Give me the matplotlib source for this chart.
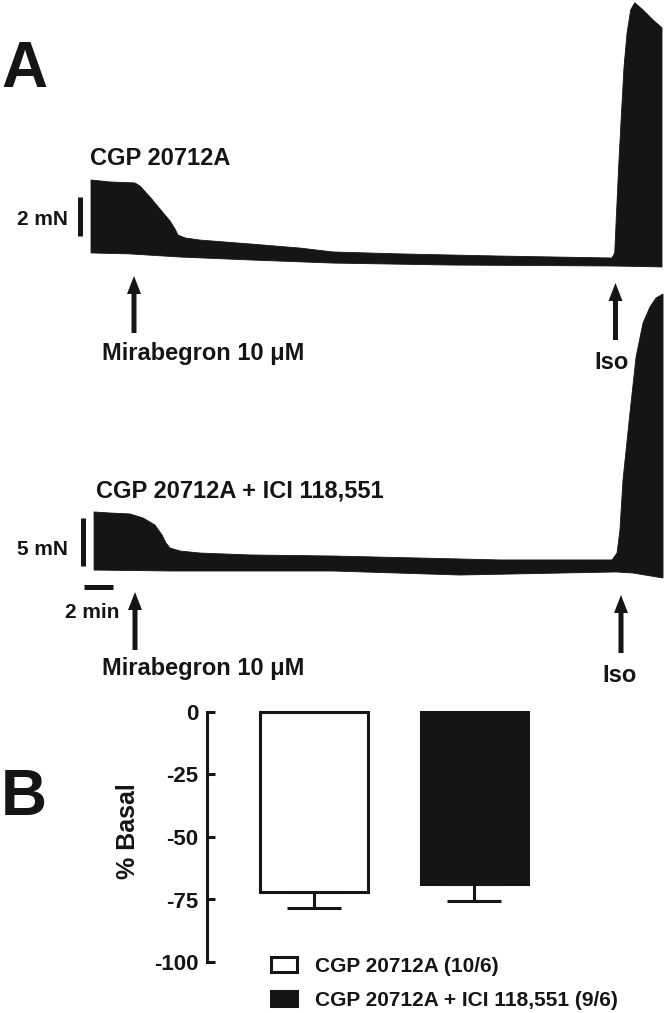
import matplotlib
matplotlib.use('Agg')
import matplotlib.pyplot as plt
import matplotlib.patches as patches
import numpy as np

plt.rcParams['font.family'] = ['Liberation Sans', 'DejaVu Sans']
plt.rcParams['font.weight'] = 'bold'

INK = '#151515'
W, H = 666, 1013

# --- Trace data (time in min, force in mN, read from the recordings) ---
top_up_t = [0, 1.31, 3.03, 3.38, 4.07, 4.76, 5.45, 5.79, 6.0, 6.48, 7.52, 10.97, 14.41, 16.69,
            21.31, 28.2, 35.93, 36.12, 36.23, 36.39, 36.57, 36.76, 36.97, 37.22, 37.50, 38.07,
            38.76, 39.38]
top_up_f = [4.41, 4.31, 4.26, 4.10, 3.54, 2.92, 2.31, 1.90, 1.59, 1.44, 1.33, 1.13, 0.92, 0.72,
            0.62, 0.51, 0.41, 0.67, 2.51, 5.08, 7.64, 10.21, 11.95, 13.13, 13.50, 13.13,
            12.62, 12.21]
top_lo_t = [0, 2.69, 6.14, 10.97, 16.69, 24.76, 36.0, 37.5, 39.38]
top_lo_f = [0.67, 0.62, 0.46, 0.31, 0.15, 0.05, 0.0, -0.02, -0.05]

bot_up_t = [0.21, 1.31, 2.69, 3.59, 4.41, 4.90, 5.17, 5.45, 6.14, 7.52, 10.97, 16.69, 22.69,
            28.2, 35.93, 36.28, 36.48, 36.69, 37.17, 37.59, 38.07, 38.55, 38.97, 39.45]
bot_up_f = [6.88, 6.77, 6.67, 6.25, 5.52, 4.48, 3.65, 3.13, 2.81, 2.60, 2.40, 2.29, 2.08,
            1.88, 1.88, 2.60, 5.0, 10.21, 17.19, 23.02, 26.56, 28.23, 29.17, 29.58]
bot_lo_t = [0.21, 5.45, 16.69, 25.45, 36.21, 37.38, 39.45]
bot_lo_f = [0.83, 0.73, 0.73, 0.31, 0.63, 0.52, 0.0]

# --- Bar data ---
groups = ['CGP 20712A (10/6)', 'CGP 20712A + ICI 118,551 (9/6)']
means = [-72.0, -68.8]
sems = [6.4, 6.8]
bar_colors = ['white', INK]
yticks = [0, -25, -50, -75, -100]

fig = plt.figure(figsize=(W / 100, H / 100), dpi=100)
fig.patch.set_facecolor('white')


def px_axes(x0, y0, x1, y1):
    # axes placed by pixel box (y measured from top)
    return fig.add_axes([x0 / W, 1 - y1 / H, (x1 - x0) / W, (y1 - y0) / H])


# time axis shared by both traces: 14.5 px per min, t=0 at x=91 px
PX_MIN = 14.5
XLIM = (-91 / PX_MIN, (W - 91) / PX_MIN)

# --- Top trace (2 mN = 39 px) ---
axt = px_axes(0, 0, W, 290)
axt.set_xlim(XLIM)
axt.set_ylim((266 - 290) / 19.5, 266 / 19.5)
axt.axis('off')
axt.fill(np.concatenate([top_up_t, top_lo_t[::-1]]),
         np.concatenate([top_up_f, top_lo_f[::-1]]), color=INK, lw=0.6, ec=INK)
axt.plot([-0.76, -0.76], [1.54, 3.54], color=INK, lw=3.6, solid_capstyle='butt')

# --- Bottom trace (5 mN = 48 px) ---
axb = px_axes(0, 280, W, 600)
axb.set_xlim(XLIM)
axb.set_ylim((578 - 600) / 9.6, (578 - 280) / 9.6)
axb.axis('off')
axb.fill(np.concatenate([bot_up_t, bot_lo_t[::-1]]),
         np.concatenate([bot_up_f, bot_lo_f[::-1]]), color=INK, lw=0.6, ec=INK)
axb.plot([-0.55, -0.55], [1.25, 6.25], color=INK, lw=3.6, solid_capstyle='butt')
axb.plot([-0.48, 1.52], [-0.94, -0.94], color=INK, lw=3.6, solid_capstyle='butt')

# --- Panel B bar chart ---
ax = px_axes(207, 712, 560, 962)
xs = np.arange(len(groups))
bars = ax.bar(xs, means, width=0.67, color=bar_colors, edgecolor=INK, linewidth=2.2,
              clip_on=False, zorder=3)
# one-sided (downward) SEM
ax.errorbar(xs, means, yerr=[sems, [0, 0]], fmt='none', ecolor=INK, elinewidth=2.2,
            capsize=19.5, capthick=2.2, clip_on=False, zorder=2)
ax.set_xlim(-0.667, 1.533)
ax.set_ylim(-100, 0)
ax.set_yticks(yticks)
ax.set_yticklabels([str(v) for v in yticks], fontsize=16, fontweight='bold', color=INK)
ax.tick_params(axis='y', direction='in', length=5.5, width=2.2, pad=6, colors=INK)
ax.set_xticks([])
for s in ['top', 'right', 'bottom']:
    ax.spines[s].set_visible(False)
ax.spines['left'].set_linewidth(2.2)
ax.spines['left'].set_color(INK)
ax.patch.set_alpha(0)

leg = ax.legend(bars, groups, loc='upper left', bbox_to_anchor=(271 / W, 1 - 957 / H),
                bbox_transform=fig.transFigure, frameon=False, fontsize=15,
                handlelength=1.25, handleheight=0.72, handletextpad=0.85,
                labelspacing=0.72, borderpad=0, borderaxespad=0)
for t in leg.get_texts():
    t.set_fontweight('bold')
    t.set_color(INK)

# --- Overlay in pixel coordinates for labels and arrows ---
ov = px_axes(0, 0, W, H)
ov.set_xlim(0, W)
ov.set_ylim(H, 0)
ov.axis('off')
ov.patch.set_alpha(0)

ov.text(1, 87, 'A', fontsize=46, fontweight='bold', color=INK, va='baseline')
ov.text(1, 815, 'B', fontsize=46, fontweight='bold', color=INK, va='baseline')

ov.text(90, 165, 'CGP 20712A', fontsize=17, color=INK, va='baseline')
ov.text(96, 497, 'CGP 20712A + ICI 118,551', fontsize=17, color=INK, va='baseline')
ov.text(68, 225, '2 mN', fontsize=15, color=INK, va='baseline', ha='right')
ov.text(68, 555, '5 mN', fontsize=15, color=INK, va='baseline', ha='right')
ov.text(92, 618, '2 min', fontsize=15, color=INK, va='baseline', ha='center')
ov.text(102, 360, 'Mirabegron 10 \u03bcM', fontsize=17, color=INK, va='baseline')
ov.text(102, 675, 'Mirabegron 10 \u03bcM', fontsize=17, color=INK, va='baseline')
ov.text(612, 369, 'Iso', fontsize=17, color=INK, va='baseline', ha='center')
ov.text(620, 682, 'Iso', fontsize=17, color=INK, va='baseline', ha='center')
ov.text(135, 831, '% Basal', fontsize=18, color=INK, rotation=90, rotation_mode='anchor',
        ha='center', va='baseline')


def up_arrow(x, tail, tip):
    ov.add_patch(patches.FancyArrow(x, tail, 0, tip - tail, width=5, head_width=14,
                                    head_length=18, length_includes_head=True,
                                    color=INK, lw=0))


up_arrow(134, 333, 276)
up_arrow(615.5, 340, 283)
up_arrow(135, 650, 592)
up_arrow(621, 653, 595)

plt.savefig('out.png', dpi=100, facecolor='white')
plt.close()
